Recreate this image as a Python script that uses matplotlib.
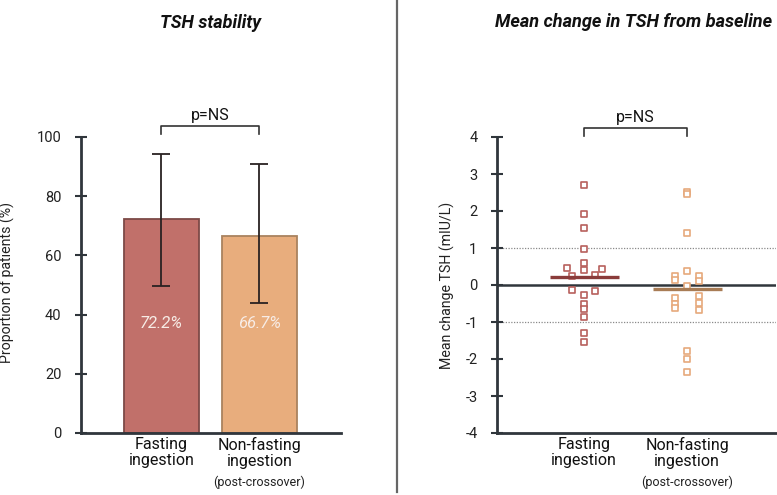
import matplotlib
matplotlib.use('Agg')
import matplotlib.pyplot as plt
import numpy as np

plt.rcParams['font.family'] = ['Roboto', 'DejaVu Sans']
plt.rcParams['axes.unicode_minus'] = False

# left panel: proportion with stable TSH
groups = ['Fasting\ningestion', 'Non-fasting\ningestion']
stable_pct = [72.2, 66.7]
ci_low = [49.7, 44.0]
ci_high = [94.3, 90.8]

# right panel: individual mean change in TSH (mIU/L)
fasting_change = [2.69, 1.92, 1.55, 0.96, 0.59, 0.40, -0.28, -0.52, -0.66, -0.87, -1.29, -1.55,
                  0.45, 0.23, -0.13, 0.28, -0.15, 0.43]
fasting_jitter = [0, 0, 0, 0, 0, 0, 0, 0, 0, 0, 0, 0,
                  -0.17, -0.115, -0.115, 0.11, 0.11, 0.17]
nonfasting_change = [2.52, 2.45, 1.41, 0.38, -0.04, -1.78, -1.99, -2.34,
                     0.25, 0.13, -0.35, -0.51, -0.63,
                     0.25, 0.10, -0.31, -0.49, -0.67]
nonfasting_jitter = [0, 0, 0, 0, 0, 0, 0, 0,
                     -0.113, -0.113, -0.113, -0.113, -0.113,
                     0.113, 0.113, 0.113, 0.113, 0.113]
mean_change = [0.22, -0.10]

BAR_FILL = ['#c1706a', '#e8ad7d']
BAR_EDGE = ['#7d4a47', '#a9825f']
PT_EDGE = ['#b8605c', '#e6a97c']
MEAN_COL = ['#8a3c3b', '#a87c55']
AXC = '#30363c'


def style_axis(ax):
    for s in ['top', 'right']:
        ax.spines[s].set_visible(False)
    for s in ['left', 'bottom']:
        ax.spines[s].set_color(AXC)
        ax.spines[s].set_linewidth(2)
    ax.tick_params(axis='y', direction='inout', length=8, width=1.5, color=AXC,
                   labelsize=10.5, labelcolor='#222222', pad=10)
    ax.tick_params(axis='x', length=0, pad=3, labelsize=11.5, labelcolor='#111111')


fig = plt.figure(figsize=(7.77, 4.95), dpi=100)
ax1 = fig.add_axes([81 / 777, 62 / 495, 260 / 777, 296 / 495])
ax2 = fig.add_axes([497 / 777, 62 / 495, 279 / 777, 296 / 495])

# --- left: bars ---
x = np.arange(len(groups))
yerr = [np.array(stable_pct) - np.array(ci_low), np.array(ci_high) - np.array(stable_pct)]
ax1.bar(x, stable_pct, width=0.765, color=BAR_FILL, edgecolor=BAR_EDGE, linewidth=1.3, zorder=2)
ax1.errorbar(x, stable_pct, yerr=yerr, fmt='none', ecolor='#2a2222', elinewidth=1.3,
             capsize=6.5, capthick=1.3, zorder=3)
for xi, v in zip(x, stable_pct):
    ax1.text(xi, 37, f'{v}%', ha='center', va='center', color='#f7ece6',
             fontsize=12, fontstyle='italic', zorder=4)
ax1.set_xlim(-0.821, 1.832)
ax1.set_ylim(0, 100)
ax1.set_yticks([0, 20, 40, 60, 80, 100])
ax1.set_xticks(x)
ax1.set_xticklabels(groups, linespacing=1.1)
ax1.set_ylabel('Proportion of patients (%)', fontsize=10.2, color='#222222')
ax1.yaxis.set_label_coords(-0.254, 0.51)
style_axis(ax1)
ax1.plot([0, 0, 1, 1], [101.1, 103.7, 103.7, 101.1], color='#333333', lw=1.2, clip_on=False)
ax1.text(0.5, 107.2, 'p=NS', ha='center', va='center', fontsize=11.5, color='#111111')
ax1.text(1, -0.166, '(post-crossover)', transform=ax1.get_xaxis_transform(),
         ha='center', va='center', fontsize=9, color='#222222')

# --- right: individual points ---
ax2.axhline(0, color=AXC, lw=1.8, zorder=1)
for yl in [1, -1]:
    ax2.axhline(yl, color='#8a8a8a', lw=0.9, ls=(0, (1, 1.2)), zorder=1)
series = [(fasting_change, fasting_jitter), (nonfasting_change, nonfasting_jitter)]
for i, (vals, jit) in enumerate(series):
    ax2.scatter(i + np.array(jit), vals, marker='s', s=16, facecolors='white',
                edgecolors=PT_EDGE[i], linewidths=1.2, zorder=3)
    ax2.plot([i - 0.335, i + 0.335], [mean_change[i]] * 2, color=MEAN_COL[i], lw=2.4,
             solid_capstyle='butt', zorder=4)
ax2.set_xlim(-0.845, 1.864)
ax2.set_ylim(-4, 4)
ax2.set_yticks(range(-4, 5))
ax2.set_xticks(x)
ax2.set_xticklabels(groups, linespacing=1.1)
ax2.set_ylabel('Mean change TSH (mIU/L)', fontsize=10.2, color='#222222')
ax2.yaxis.set_label_coords(-0.150, 0.5)
style_axis(ax2)
ax2.plot([0, 0, 1, 1], [4.02, 4.25, 4.25, 4.02], color='#333333', lw=1.2, clip_on=False)
ax2.text(0.5, 4.53, 'p=NS', ha='center', va='center', fontsize=11.5, color='#111111')
ax2.text(1, -0.166, '(post-crossover)', transform=ax2.get_xaxis_transform(),
         ha='center', va='center', fontsize=9, color='#222222')

# titles and divider
fig.text(210 / 777, 1 - 23 / 495, 'TSH stability', ha='center', va='center',
         fontsize=13, fontweight='bold', fontstyle='italic', color='#111111')
fig.text(634 / 777, 1 - 22 / 495, 'Mean change in TSH from baseline', ha='center', va='center',
         fontsize=13.1, fontweight='bold', fontstyle='italic', color='#111111')
fig.add_artist(plt.Line2D([397 / 777, 397 / 777], [1 - 492 / 495, 1.0], color='#666666', lw=1.6))

fig.savefig('out.png', dpi=100)
